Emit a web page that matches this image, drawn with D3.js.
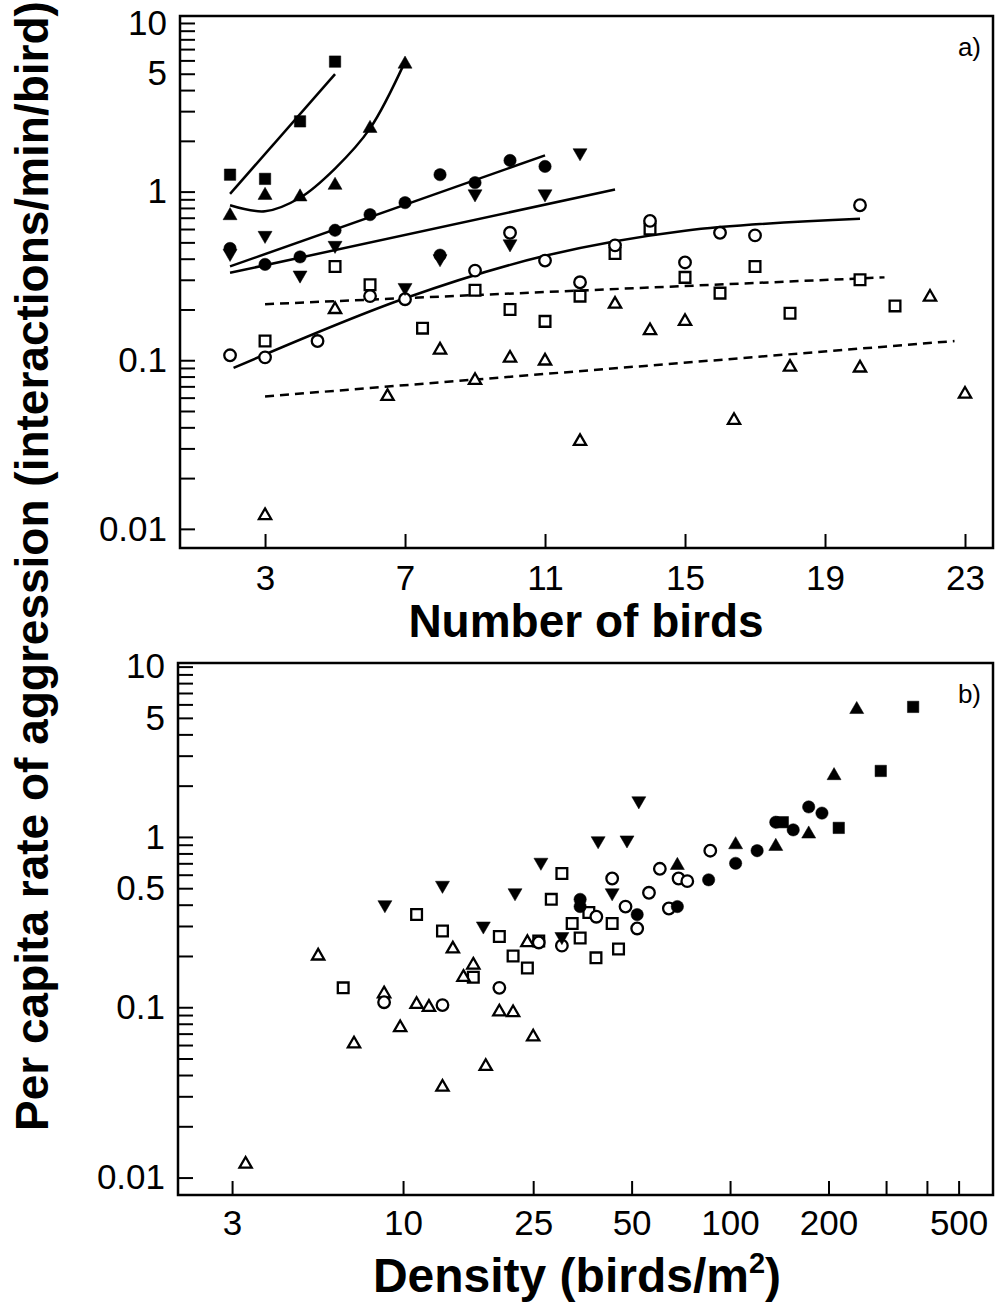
<!DOCTYPE html>
<html>
<head>
<meta charset="utf-8">
<script src="https://cdn.jsdelivr.net/npm/d3@7"></script>
<style>
  body { margin: 0; background: #fff; }
  text { font-family: "Liberation Sans", Arial, sans-serif; fill: #000; }
</style>
</head>
<body>
<div id="chart"></div>
<script>
// ---- panel a: number of birds vs per capita aggression ----
const aFilledSquare = [[2,1.26],[3,1.19],[4,2.61],[5,5.9]];
const aFilledUp = [[2,0.72],[3,0.95],[4,0.93],[5,1.09],[6,2.37],[7,5.7]];
const aFilledCircle = [[2,0.46],[3,0.37],[4,0.41],[5,0.59],[6,0.73],[7,0.86],[8,1.26],[8,0.42],[9,1.13],[10,1.53],[11,1.41]];
const aFilledDown = [[2,0.43],[3,0.55],[4,0.32],[5,0.48],[7,0.27],[8,0.40],[9,0.97],[10,0.49],[11,0.97],[12,1.7]];
const aOpenCircle = [[2,0.107],[3,0.104],[4.5,0.13],[6,0.24],[7,0.23],[9,0.34],[10,0.57],[11,0.39],[12,0.29],[13,0.48],[14,0.67],[15,0.38],[16,0.57],[17,0.55],[20,0.83]];
const aOpenSquare = [[3,0.13],[5,0.36],[6,0.28],[7.5,0.155],[9,0.26],[10,0.20],[11,0.17],[12,0.24],[13,0.43],[14,0.60],[15,0.31],[16,0.25],[17,0.36],[18,0.19],[20,0.30],[21,0.21]];
const aOpenUp = [[3,0.012],[5,0.20],[6.5,0.061],[8,0.115],[9,0.076],[10,0.103],[11,0.099],[12,0.033],[13,0.215],[14,0.15],[15,0.17],[16.4,0.044],[18,0.091],[20,0.09],[22,0.237],[23,0.063]];

// fitted lines
const aFitSquare = [[2,0.97],[5,4.97]];
const aFitUp = [[2,0.83],[3,0.765],[4,0.92],[5,1.37],[6,2.37],[7,5.9]];
const aFitCircle = [[2,0.36],[11,1.64]];
const aFitDown = [[2,0.33],[13,1.03]];
const aFitOpenCircle = [[2.1,0.09],[7,0.233],[11,0.416],[15,0.586],[20,0.69]];
const aFitOpenSquare = [[3,0.215],[20.7,0.31]];
const aFitOpenUp = [[3,0.061],[22.7,0.13]];

// ---- panel b: density vs per capita aggression ----
const bFilledSquare = [[145,1.22],[215,1.13],[289,2.44],[363,5.8]];
const bFilledUp = [[69,0.68],[104,0.90],[138,0.88],[174,1.04],[208,2.29],[244,5.6]];
const bFilledCircle = [[34.8,0.43],[34.8,0.39],[52,0.35],[69,0.39],[86,0.56],[104,0.70],[121,0.83],[138,1.22],[156,1.10],[174,1.5],[191,1.38]];
const bFilledDown = [[8.8,0.40],[13.2,0.52],[17.6,0.30],[22,0.47],[26.4,0.71],[30.6,0.26],[39.5,0.95],[43.6,0.47],[48.4,0.96],[52.6,1.63]];
const bOpenCircle = [[8.75,0.107],[13.2,0.103],[19.7,0.13],[26,0.24],[30.6,0.23],[39,0.34],[43.6,0.57],[47.9,0.39],[52,0.29],[56.5,0.47],[61,0.65],[65,0.38],[69.6,0.57],[74,0.55],[87,0.83]];
const bOpenSquare = [[6.56,0.13],[11,0.35],[13.2,0.28],[16.4,0.15],[19.7,0.26],[21.7,0.20],[24,0.17],[26,0.245],[28.4,0.43],[30.6,0.61],[32.9,0.31],[34.8,0.255],[37,0.36],[38.9,0.195],[43.6,0.31],[45.6,0.22]];
const bOpenUp = [[3.3,0.012],[5.5,0.20],[7.08,0.061],[8.75,0.12],[9.8,0.076],[11,0.104],[12,0.10],[13.2,0.034],[14.2,0.22],[15.3,0.15],[16.4,0.177],[17.9,0.045],[19.7,0.094],[21.7,0.093],[24,0.24],[25,0.067]];

// tick labels
const aXTicks = [3,7,11,15,19,23];
const aYLabels = [0.01,0.1,1,5,10];
const bXTicks = [3,10,25,50,100,200,300,400,500];
const bXLabels = [3,10,25,50,100,200,500];
const bYLabels = [0.01,0.1,0.5,1,5,10];

const width = 997, height = 1312;

const svg = d3.select('#chart')
    .append('svg')
    .attr('width', width)
    .attr('height', height);

// minor + major ticks of a log axis, 0.01 .. 10
const logTicks = [];
[0.01, 0.1, 1].forEach(d => { for (let k = 1; k <= 9; k++) logTicks.push(+(d * k).toPrecision(3)); });
logTicks.push(10);

const near = (list, d) => list.some(v => Math.abs(v - d) < 1e-9);

function drawPanel(p) {
    const g = svg.append('g');
    const x = p.x, y = p.y;
    const [left, right] = x.range();
    const [bottom, top] = y.range();

    // y axis
    const yAxis = d3.axisLeft(y)
        .tickValues(logTicks)
        .tickSize(-15)
        .tickPadding(13)
        .tickFormat(d => near(p.yLabels, d) ? String(d) : '');
    g.append('g')
        .attr('transform', `translate(${left},0)`)
        .call(yAxis)
        .call(s => s.select('.domain').remove());

    // x axis
    const xAxis = d3.axisBottom(x)
        .tickValues(p.xTicks)
        .tickSize(-14)
        .tickPadding(p.xPad)
        .tickFormat(d => near(p.xLabels, d) ? String(d) : '');
    g.append('g')
        .attr('transform', `translate(0,${bottom})`)
        .call(xAxis)
        .call(s => s.select('.domain').remove());

    g.selectAll('.tick line').attr('stroke', '#000').attr('stroke-width', 2);
    g.selectAll('.tick text')
        .style('font-family', '"Liberation Sans", Arial, sans-serif')
        .style('font-size', '35px')
        .attr('fill', '#000');

    // frame
    g.append('rect')
        .attr('x', left).attr('y', top)
        .attr('width', right - left).attr('height', bottom - top)
        .attr('fill', 'none')
        .attr('stroke', '#000')
        .attr('stroke-width', 2.5);

    // fitted lines
    (p.fits || []).forEach(f => {
        const line = d3.line()
            .x(d => x(d[0]))
            .y(d => y(d[1]))
            .curve(f.curve || d3.curveLinear);
        g.append('path')
            .datum(f.data)
            .attr('d', line)
            .attr('fill', 'none')
            .attr('stroke', '#000')
            .attr('stroke-width', 2.5)
            .attr('stroke-dasharray', f.dashed ? '9,6' : null);
    });

    // markers
    p.series.forEach(s => {
        const sym = d3.symbol().type(s.type).size(s.size);
        g.selectAll(null)
            .data(s.data)
            .join('path')
            .attr('d', sym)
            .attr('transform', d => `translate(${x(d[0])},${y(d[1])})` + (s.down ? ' rotate(180)' : ''))
            .attr('fill', s.open ? '#fff' : '#000')
            .attr('stroke', '#000')
            .attr('stroke-width', s.open ? 2.3 : 0.5);
    });

    g.append('text')
        .attr('x', right - 12)
        .attr('y', top + 40)
        .attr('text-anchor', 'end')
        .style('font-size', '26px')
        .text(p.tag);
}

function seriesList(fs, fu, fc, fd, oc, os, ou) {
    return [
        { data: os, type: d3.symbolSquare, size: 115, open: true },
        { data: ou, type: d3.symbolTriangle, size: 65, open: true },
        { data: oc, type: d3.symbolCircle, size: 105, open: true },
        { data: fd, type: d3.symbolTriangle, size: 85, down: true },
        { data: fc, type: d3.symbolCircle, size: 120 },
        { data: fu, type: d3.symbolTriangle, size: 85 },
        { data: fs, type: d3.symbolSquare, size: 130 }
    ];
}

// panel a
drawPanel({
    x: d3.scaleLinear().domain([0.57, 23.8]).range([180, 993]),
    y: d3.scaleLog().domain([0.0077, 11]).range([548, 16]),
    xTicks: aXTicks, xLabels: aXTicks, yLabels: aYLabels, xPad: 17,
    tag: 'a)',
    fits: [
        { data: aFitSquare },
        { data: aFitUp, curve: d3.curveCatmullRom.alpha(0.5) },
        { data: aFitCircle },
        { data: aFitDown },
        { data: aFitOpenCircle, curve: d3.curveCatmullRom.alpha(0.5) },
        { data: aFitOpenSquare, dashed: true },
        { data: aFitOpenUp, dashed: true }
    ],
    series: seriesList(aFilledSquare, aFilledUp, aFilledCircle, aFilledDown, aOpenCircle, aOpenSquare, aOpenUp)
});

// panel b
drawPanel({
    x: d3.scaleLog().domain([2.05, 637]).range([178, 993]),
    y: d3.scaleLog().domain([0.0079, 10.5]).range([1195, 663]),
    xTicks: bXTicks, xLabels: bXLabels, yLabels: bYLabels, xPad: 15,
    tag: 'b)',
    series: seriesList(bFilledSquare, bFilledUp, bFilledCircle, bFilledDown, bOpenCircle, bOpenSquare, bOpenUp)
});

// axis titles
svg.append('text')
    .attr('x', 586).attr('y', 637)
    .attr('text-anchor', 'middle')
    .style('font-size', '46px').style('font-weight', 'bold')
    .text('Number of birds');

const dens = svg.append('text')
    .attr('x', 577).attr('y', 1292)
    .attr('text-anchor', 'middle')
    .style('font-size', '48px').style('font-weight', 'bold');
dens.append('tspan').text('Density (birds/m');
dens.append('tspan').attr('dy', -19).style('font-size', '29px').text('2');
dens.append('tspan').attr('dy', 19).text(')');

svg.append('text')
    .attr('transform', 'translate(48,566) rotate(-90)')
    .attr('text-anchor', 'middle')
    .style('font-size', '46px').style('font-weight', 'bold')
    .text('Per capita rate of aggression (interactions/min/bird)');
</script>
</body>
</html>
